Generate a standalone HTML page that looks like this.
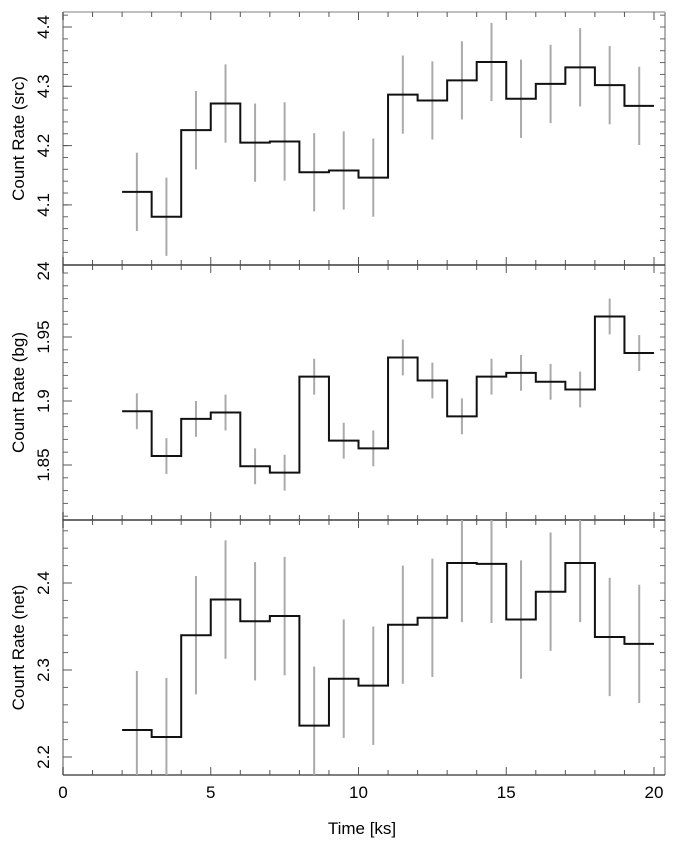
<!DOCTYPE html>
<html><head><meta charset="utf-8"><style>
html,body{margin:0;padding:0;background:#fff;}
svg{display:block;font-family:"Liberation Sans",sans-serif;}
</style></head><body>
<svg id="chart" width="676" height="846" viewBox="0 0 676 846"></svg>
<script>
const binStarts = [2,3,4,5,6,7,8,9,10,11,12,13,14,15,16,17,18,19];
const srcValues = [4.122,4.080,4.226,4.271,4.205,4.207,4.155,4.158,4.146,4.286,4.276,4.310,4.341,4.279,4.304,4.332,4.302,4.267];
const srcErrors = [0.066,0.066,0.066,0.066,0.066,0.066,0.066,0.066,0.066,0.066,0.066,0.066,0.066,0.066,0.066,0.066,0.066,0.066];
const bgValues = [1.892,1.857,1.886,1.891,1.849,1.844,1.919,1.869,1.863,1.934,1.916,1.888,1.919,1.922,1.915,1.909,1.966,1.9375];
const bgErrors = [0.014,0.014,0.014,0.014,0.014,0.014,0.014,0.014,0.014,0.014,0.014,0.014,0.014,0.014,0.014,0.014,0.014,0.014];
const netValues = [2.231,2.223,2.340,2.381,2.356,2.362,2.236,2.290,2.282,2.352,2.360,2.423,2.422,2.358,2.390,2.423,2.338,2.330];
const netErrors = [0.068,0.068,0.068,0.068,0.068,0.068,0.068,0.068,0.068,0.068,0.068,0.068,0.068,0.068,0.068,0.068,0.068,0.068];
const xTickLabels = ["0","5","10","15","20"];
const srcTickLabels = ["4.1","4.2","4.3","4.4"];
const bgTickLabels = ["1.85","1.9","1.95"];
const netTickLabels = ["2.2","2.3","2.4"];

const NS="http://www.w3.org/2000/svg";
const svg=document.getElementById('chart');
const X0=63, X1=665;
function xs(v){return 63+v*(654-63)/20;}
function mk(tag,attrs){const e=document.createElementNS(NS,tag);for(const k in attrs)e.setAttribute(k,attrs[k]);svg.appendChild(e);return e;}

const panels=[
 {name:'src',top:12,bot:265,yRef:27,vRef:4.4,pxPer:593,minor:0.02,vals:srcValues,errs:srcErrors,ticks:srcTickLabels,title:'Count Rate (src)',extra:null},
 {name:'bg',top:265,bot:520,yRef:401,vRef:1.9,pxPer:1280,minor:0.01,vals:bgValues,errs:bgErrors,ticks:bgTickLabels,title:'Count Rate (bg)',extra:'24'},
 {name:'net',top:520,bot:775,yRef:583,vRef:2.4,pxPer:870,minor:0.02,vals:netValues,errs:netErrors,ticks:netTickLabels,title:'Count Rate (net)',extra:null}
];

panels.forEach((p,pi)=>{
 const ys=v=>p.yRef-(v-p.vRef)*p.pxPer;
 const g=mk('g',{});
 
 
 // frame
 const l=mk('line',{x1:X0,y1:p.top,x2:X0,y2:p.bot,stroke:'#aaa','stroke-width':2});
 
 
 const r=mk('line',{x1:X1,y1:p.top,x2:X1,y2:p.bot,stroke:'#999','stroke-width':1.5});
 
 
 const t=mk('line',{x1:X0,y1:p.top,x2:X1,y2:p.top,stroke:pi==0?'#aaa':'#333','stroke-width':pi==0?1.5:1.3});
 
 
 const b=mk('line',{x1:X0,y1:p.bot,x2:X1,y2:p.bot,stroke:'#333','stroke-width':1.3});
 
 
 // x ticks
 for(let i=0;i<=20;i++){
  const len=(i%5==0)?8:5, x=xs(i);
  const a=mk('line',{x1:x,y1:p.bot,x2:x,y2:p.bot-len,stroke:'#555','stroke-width':1});
  
  
  const c=mk('line',{x1:x,y1:p.top,x2:x,y2:p.top+len,stroke:'#555','stroke-width':1});
  
  
 }
 // y minor ticks
 const vLow=p.vRef-(p.bot-p.yRef)/p.pxPer, vHigh=p.vRef+(p.yRef-p.top)/p.pxPer;
 for(let k=Math.ceil(vLow/p.minor-1e-6);k*p.minor<=vHigh+1e-9;k++){
  const y=ys(k*p.minor);
  if(y<p.top+1||y>p.bot-1)continue;
  const m=mk('line',{x1:X0,y1:y,x2:X0+5,y2:y,stroke:'#666','stroke-width':1});
  
  
  const m2=mk('line',{x1:X1,y1:y,x2:X1-5,y2:y,stroke:'#666','stroke-width':1});
  
  
 }
 // y tick labels
 p.ticks.forEach(s=>{
  const y=ys(parseFloat(s));
  const mj=mk('line',{x1:X0,y1:y,x2:X0+9,y2:y,stroke:'#555','stroke-width':1});
  
  
  const tx=mk('text',{x:0,y:0,transform:`translate(49,${y}) rotate(-90)`,'text-anchor':'middle','font-size':17,fill:'#000'});
  tx.textContent=s;
  
  
 });
 if(p.extra){
  const tx=mk('text',{x:0,y:0,transform:`translate(49,${p.top+6}) rotate(-90)`,'text-anchor':'middle','font-size':17,fill:'#000'});
  tx.textContent=p.extra;
  
  
 }
 const ti=mk('text',{x:0,y:0,transform:`translate(24,${(p.top+p.bot)/2}) rotate(-90)`,'text-anchor':'middle','font-size':17,fill:'#000'});
 ti.textContent=p.title;
 
 
 // error bars
 binStarts.forEach((s,i)=>{
  const x=xs(s+0.5);
  const y1=Math.max(p.top,ys(p.vals[i]+p.errs[i])), y2=Math.min(p.bot,ys(p.vals[i]-p.errs[i]));
  const e=mk('line',{x1:x,y1:y1,x2:x,y2:y2,stroke:'#aaa','stroke-width':2});
  
  
 });
 // step line
 let d='';
 binStarts.forEach((s,i)=>{
  const y=ys(p.vals[i]);
  d+=(i==0?'M':'L')+xs(s)+','+y+' L'+xs(s+1)+','+y+' ';
 });
 const path=mk('path',{d:d,fill:'none',stroke:'#111','stroke-width':2});
 
 
});
// x tick labels
xTickLabels.forEach(s=>{
 const tx=mk('text',{x:xs(parseFloat(s)),y:798,'text-anchor':'middle','font-size':17,fill:'#000'});
 tx.textContent=s;
 
 
});
const xt=mk('text',{x:362,y:834,'text-anchor':'middle','font-size':17,fill:'#000'});
xt.textContent='Time [ks]';


</script>
</body></html>
